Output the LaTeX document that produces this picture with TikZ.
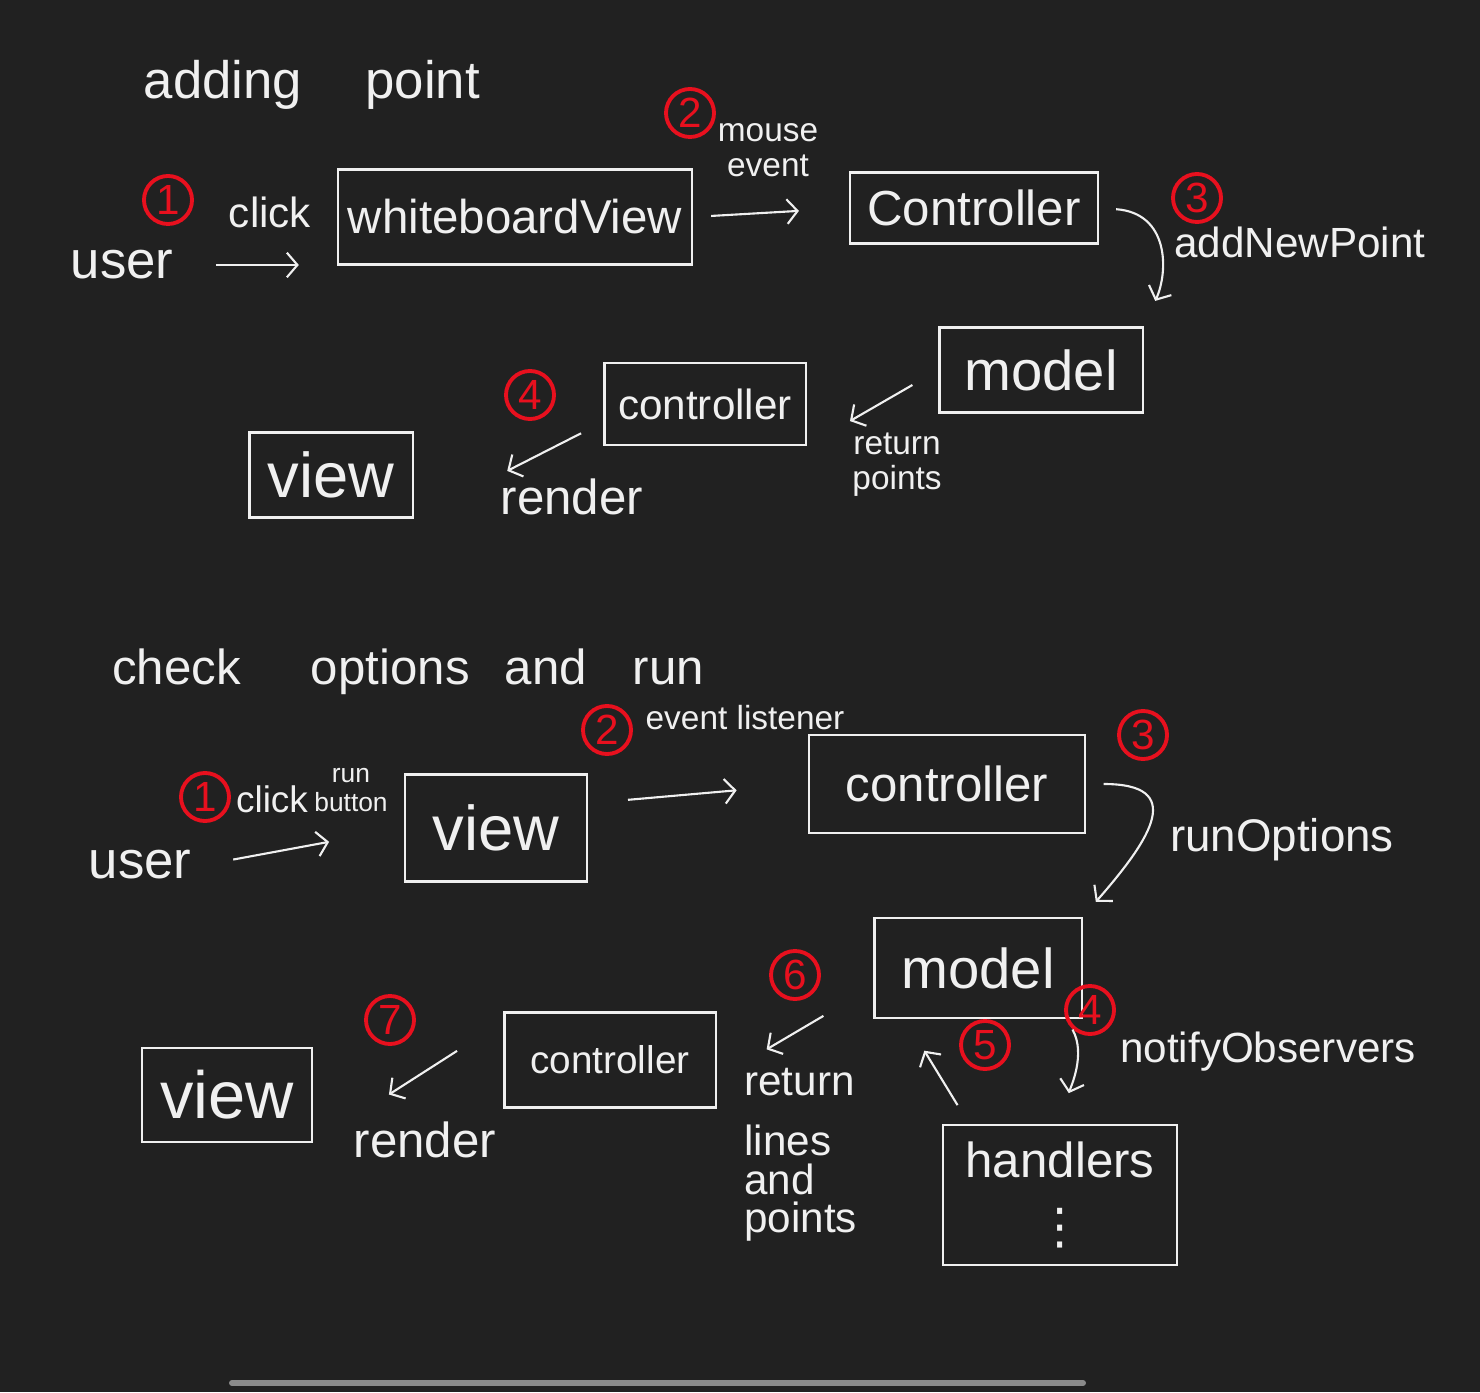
\documentclass[tikz,border=0pt]{standalone}
\usepackage{fontspec}
\setmainfont{Liberation Sans}
\newfontfamily\dotsfont{DejaVu Sans}
\usetikzlibrary{arrows.meta}
\definecolor{board}{HTML}{212121}
\definecolor{ink}{HTML}{F0F0F0}
\definecolor{redink}{HTML}{E8101E}
\definecolor{bargray}{HTML}{8A8A8A}

\begin{document}
\begin{tikzpicture}[x=0.01cm, y=-0.01cm,
    box/.style={draw=ink, line width=0.6pt, text=ink, inner sep=0pt},
    num/.style={circle, draw=redink, text=redink, line width=1.1pt, minimum size=0.48cm, inner sep=0pt, font=\fontsize{12}{12}\selectfont},
    hand/.style={text=ink, font=\fontsize{13}{13}\selectfont},
    big/.style={text=ink, font=\fontsize{15}{15}\selectfont},
    small/.style={text=ink, align=center, font=\fontsize{9.5}{10}\selectfont},
    flow/.style={-{Straight Barb[length=3pt,width=7pt]}, draw=ink, line width=0.6pt}]
            \fill[board] (0,0) rectangle (1480,1392);
            \useasboundingbox (0,0) rectangle (1480,1392);

            \node[big] (Title1) at (312,85) {adding\hspace{18pt}point};
            \node[num] (N1) at (168,200) {1};
            \node[hand, font=\fontsize{12}{12}\selectfont] (Click) at (270,212) {click};
            \node[big] (User) at (122,265) {user};
            \node[box, minimum width=3.54cm, minimum height=0.95cm, font=\fontsize{13.5}{14}\selectfont] (WhiteboardView) at (515,217) {whiteboardView};
            \node[num] (N2) at (690,113) {2};
            \node[small] (MouseEvent) at (768,150) {mouse\\event};
            \node[box, minimum width=2.48cm, minimum height=0.71cm, font=\fontsize{14}{14}\selectfont] (Controller) at (974,208) {Controller};
            \node[num] (N3) at (1197,198) {3};
            \node[hand, font=\fontsize{12}{12}\selectfont] (AddNewPoint) at (1300,242) {addNewPoint};
            \node[box, minimum width=2.03cm, minimum height=0.85cm, font=\fontsize{16}{16}\selectfont] (Model) at (1041,370) {model};
            \node[small] (ReturnPoints) at (897,465) {return\\points};
            \node[box, minimum width=2.01cm, minimum height=0.82cm, font=\fontsize{12}{12}\selectfont] (Controller2) at (705,404) {controller};
            \node[num] (N4) at (530,395) {4};
            \node[hand, font=\fontsize{14}{14}\selectfont] (Render) at (572,497) {render};
            \node[box, minimum width=1.63cm, minimum height=0.85cm, font=\fontsize{18}{18}\selectfont] (View) at (331,475) {view};

            \draw[flow, shorten <=0.3cm, shorten >=0.38cm] (User.east) to (User.east -| WhiteboardView.west);
            \draw[flow, shorten <=0.18cm, shorten >=0.5cm] (WhiteboardView.east) to (Controller.west);
            \draw[flow, shorten <=0.17cm, shorten >=0.28cm] (Controller.east) .. controls +(70,5) and +(25,-55) .. (Model.north east);
            \draw[flow, shorten <=0.3cm, shorten >=0.5cm] (Model.west) to (Controller2.south east);
            \draw[flow, shorten <=0.25cm, shorten >=1.05cm] (Controller2.190) to (View.south east);

            \node[hand, font=\fontsize{14}{14}\selectfont] (Title2) at (408,672) {check\hspace{20pt}options\hspace{10pt}and\hspace{13pt}run};
            \node[num] (N1b) at (205,797) {1};
            \node[hand, font=\fontsize{10.5}{10.5}\selectfont] (Click2) at (272,799) {click};
            \node[small, font=\fontsize{7.5}{8}\selectfont] (RunButton) at (351,790) {run\\button};
            \node[big] (User2) at (140,865) {user};
            \node[box, minimum width=1.82cm, minimum height=1.07cm, font=\fontsize{18}{18}\selectfont] (View2) at (496,828) {view};
            \node[num] (N2b) at (607,730) {2};
            \node[small] (EventListener) at (745,718) {event listener};
            \node[box, minimum width=2.75cm, minimum height=0.98cm, font=\fontsize{14}{14}\selectfont] (Controller3) at (947,784) {controller};
            \node[num] (N3b) at (1143,735) {3};
            \node[hand] (RunOptions) at (1282,840) {runOptions};
            \node[box, minimum width=2.07cm, minimum height=1.0cm, font=\fontsize{16}{16}\selectfont] (Model2) at (978,968) {model};
            \node[num] (N6) at (795,975) {6};
            \node[hand, align=left, anchor=north west, font=\fontsize{12}{11}\selectfont] (ReturnLines) at (732,1056) {return\\[6pt]lines\\and\\points};
            \node[num] (N5) at (985,1045) {5};
            \node[num] (N4b) at (1090,1010) {4};
            \node[hand, font=\fontsize{12}{12}\selectfont] (NotifyObservers) at (1268,1052) {notifyObservers};
            \node[box, minimum width=2.34cm, minimum height=1.4cm, align=center, font=\fontsize{14}{17}\selectfont] (Handlers) at (1060,1195) {handlers\\[2pt]{\dotsfont ⋮}};
            \node[box, minimum width=2.11cm, minimum height=0.95cm, font=\fontsize{11}{11}\selectfont] (Controller4) at (610,1060) {controller};
            \node[num] (N7) at (390,1020) {7};
            \node[hand, font=\fontsize{14}{14}\selectfont] (Render2) at (425,1140) {render};
            \node[box, minimum width=1.7cm, minimum height=0.94cm, font=\fontsize{19}{19}\selectfont] (View3) at (227,1095) {view};

            \draw[flow, shorten <=0.3cm, shorten >=0.76cm] (User2.east) to (View2.west);
            \draw[flow, shorten <=0.4cm, shorten >=0.72cm] (View2.15) to (Controller3.west);
            \draw[flow, shorten <=0.18cm, shorten >=0.2cm] (Controller3.east) .. controls +(100,0) and +(70,-80) .. (Model2.north east);
            \draw[flow, shorten <=0.58cm, shorten >=0.58cm] (Model2.190) to (Controller4.350);
            \draw[flow, shorten <=0.55cm, shorten >=0.9cm] (Controller4.160) to (View3.south east);
            \draw[flow, shorten <=0.12cm, shorten >=0.32cm] (Model2.-30) .. controls +(20,35) and +(10,-35) .. (Handlers.north);
            \draw[flow, shorten <=0.22cm, shorten >=0.37cm] (Handlers.142) to (Model2.215);

            \draw[bargray, line width=1.7pt, line cap=round] (232,1383) -- (1083,1383);
        \end{tikzpicture}
\end{document}
